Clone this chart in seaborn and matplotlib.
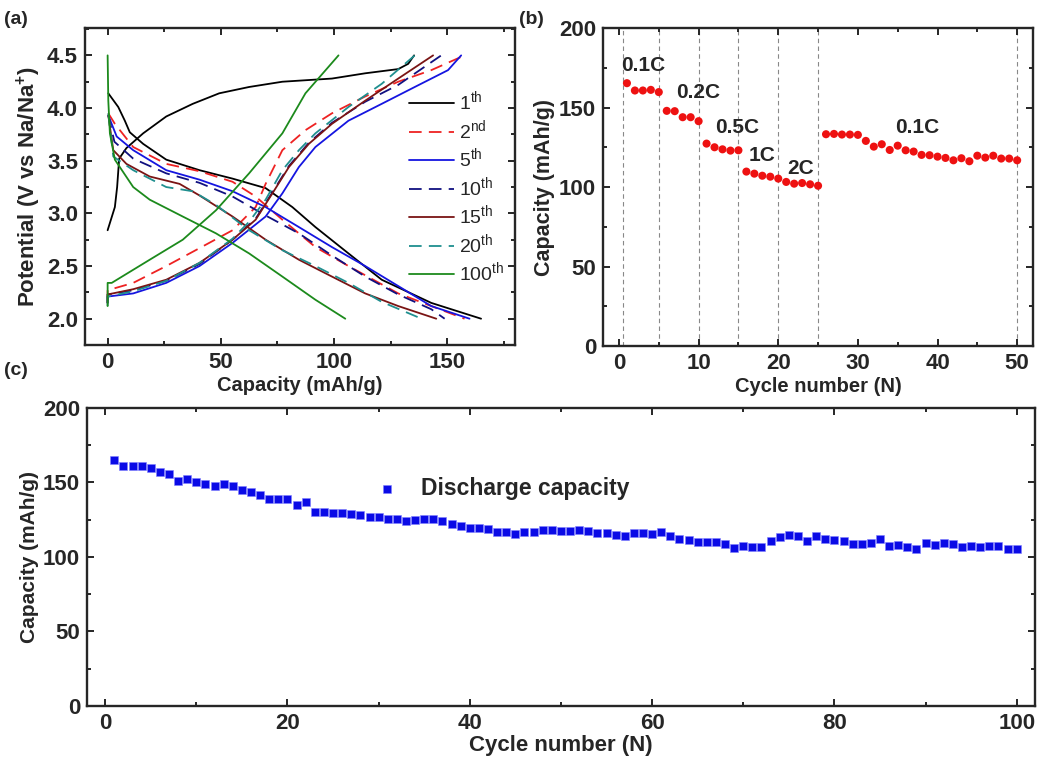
import numpy as np
import pandas as pd
import seaborn as sns
import matplotlib
matplotlib.use("Agg")
import matplotlib.pyplot as plt
from matplotlib.ticker import MultipleLocator, FormatStrFormatter

# ---------------------------------------
# 1. Data
# ---------------------------------------
# (a) charge / discharge profiles: capacity (mAh/g) and potential (V)
cap_1c = [0, 3.2, 4.2, 5.1, 8.3, 15.7, 25.9, 37.6, 49.3, 62.5, 77.2, 99.1, 113.8, 128.4, 132.8, 135.4]
pot_1c = [2.84, 3.06, 3.25, 3.52, 3.62, 3.76, 3.92, 4.04, 4.14, 4.20, 4.25, 4.28, 4.33, 4.37, 4.42, 4.50]
cap_1d = [0.3, 4.7, 7.6, 9.8, 15.7, 25.9, 40.6, 55.2, 69.8, 81.6, 91.8, 106.4, 121.1, 143.0, 165.0]
pot_1d = [4.14, 4.01, 3.88, 3.77, 3.66, 3.51, 3.41, 3.33, 3.24, 3.06, 2.87, 2.62, 2.37, 2.15, 2.00]

cap_2c = [0, 0, 11.3, 25.9, 40.6, 55.2, 65.4, 69.8, 77.2, 87.4, 99.1, 113.8, 128.4, 143.0, 157.7]
pot_2c = [2.15, 2.27, 2.34, 2.50, 2.67, 2.84, 3.06, 3.28, 3.60, 3.79, 3.95, 4.11, 4.25, 4.36, 4.50]
cap_2d = [0.3, 3.2, 11.3, 25.9, 40.6, 55.2, 65.4, 77.2, 91.8, 106.4, 128.4, 143.0, 157.7]
pot_2d = [3.95, 3.85, 3.63, 3.47, 3.40, 3.30, 3.16, 2.94, 2.68, 2.50, 2.24, 2.12, 2.00]

cap_5c = [0, 0, 11.3, 25.9, 40.6, 55.2, 69.8, 77.2, 84.5, 91.8, 106.4, 121.1, 135.7, 150.4, 156.2]
pot_5c = [2.15, 2.21, 2.24, 2.34, 2.50, 2.72, 2.97, 3.19, 3.44, 3.63, 3.88, 4.04, 4.20, 4.36, 4.50]
cap_5d = [0.3, 4.0, 11.3, 25.9, 40.6, 55.2, 69.8, 84.5, 99.1, 113.8, 128.4, 143.0, 159.9]
pot_5d = [3.93, 3.73, 3.60, 3.41, 3.32, 3.21, 3.06, 2.87, 2.68, 2.50, 2.31, 2.12, 2.00]

cap_10c = [0, 0, 11.3, 25.9, 40.6, 55.2, 65.4, 72.8, 80.1, 88.9, 99.1, 113.8, 128.4, 147.4]
pot_10c = [2.15, 2.23, 2.27, 2.36, 2.52, 2.75, 2.95, 3.20, 3.45, 3.67, 3.86, 4.06, 4.22, 4.50]
cap_10d = [0.3, 3.0, 11.3, 25.9, 40.6, 55.2, 69.8, 84.5, 99.1, 113.8, 128.4, 143.0, 148.9]
pot_10d = [3.93, 3.68, 3.52, 3.38, 3.29, 3.16, 2.98, 2.81, 2.60, 2.40, 2.23, 2.09, 2.00]

cap_15c = [0, 0, 11.3, 25.9, 40.6, 55.2, 65.4, 72.8, 80.1, 88.9, 99.1, 113.8, 128.4, 143.8]
pot_15c = [2.15, 2.23, 2.28, 2.37, 2.53, 2.75, 2.94, 3.19, 3.44, 3.66, 3.85, 4.07, 4.28, 4.50]
cap_15d = [0.3, 2.5, 8.3, 18.6, 31.8, 40.6, 55.2, 69.8, 84.5, 99.1, 113.8, 128.4, 145.2]
pot_15d = [3.93, 3.60, 3.47, 3.35, 3.28, 3.17, 2.97, 2.75, 2.56, 2.40, 2.24, 2.12, 2.00]

cap_20c = [0, 0, 11.3, 25.9, 40.6, 55.2, 62.5, 69.8, 77.2, 84.5, 91.8, 106.4, 121.1, 135.7]
pot_20c = [2.12, 2.21, 2.26, 2.36, 2.53, 2.76, 2.92, 3.13, 3.41, 3.60, 3.76, 4.01, 4.23, 4.50]
cap_20d = [0.3, 2.5, 11.3, 25.9, 37.6, 47.9, 62.5, 77.2, 91.8, 106.4, 121.1, 138.7]
pot_20d = [3.95, 3.54, 3.41, 3.25, 3.21, 3.08, 2.84, 2.65, 2.50, 2.34, 2.16, 2.00]

cap_100c = [0, 0, 1.8, 18.6, 33.2, 47.9, 62.5, 77.2, 87.4, 102.0]
pot_100c = [2.12, 2.34, 2.34, 2.56, 2.75, 3.03, 3.38, 3.76, 4.14, 4.50]
cap_100d = [0, 0.3, 1.0, 3.2, 11.3, 18.6, 33.2, 47.9, 62.5, 77.2, 91.8, 105.0]
pot_100d = [4.50, 4.07, 3.76, 3.51, 3.25, 3.13, 2.97, 2.81, 2.62, 2.40, 2.18, 2.00]

cycle_labels = [r"1$^{\mathrm{th}}$", r"2$^{\mathrm{nd}}$", r"5$^{\mathrm{th}}$", r"10$^{\mathrm{th}}$",
                r"15$^{\mathrm{th}}$", r"20$^{\mathrm{th}}$", r"100$^{\mathrm{th}}$"]

# (b) rate capability
rate_cycle = list(range(1, 51))
rate_capacity = [165.3, 160.7, 160.7, 161.1, 159.7, 147.9, 147.7, 143.9, 143.9, 141.4,
                 127.3, 125.0, 123.7, 122.9, 123.1, 109.7, 108.4, 107.1, 106.5, 105.3,
                 103.2, 102.1, 102.5, 101.7, 100.8, 133.2, 133.4, 133.0, 133.0, 132.8,
                 129.0, 125.4, 126.9, 123.3, 126.0, 123.1, 122.3, 120.2, 120.0, 119.1,
                 118.3, 116.8, 118.1, 116.2, 119.7, 118.5, 119.7, 117.9, 117.9, 116.8]
rate_bounds = [0.5, 5, 10, 15, 20, 25, 50]
rate_names = ["0.1C", "0.2C", "0.5C", "1C", "2C", "0.1C"]
rate_name_x = [3.1, 9.9, 14.8, 18.0, 22.8, 37.5]
rate_name_y = [176.7, 159.3, 137.3, 119.7, 111.7, 137.3]

# (c) long cycling
long_cycle = list(range(1, 101))
long_capacity = [165.1, 160.9, 160.9, 160.9, 159.7, 157.3, 155.9, 150.8, 152.3, 150.1,
                 148.8, 147.9, 149.0, 147.7, 145.2, 143.6, 141.6, 138.9, 138.9, 138.9,
                 135.1, 136.7, 130.2, 130.4, 129.5, 129.5, 128.6, 128.0, 126.6, 126.6,
                 125.3, 125.3, 124.4, 124.6, 125.7, 125.3, 124.4, 122.3, 120.8, 119.2,
                 119.2, 118.6, 116.6, 116.6, 115.2, 116.6, 117.0, 118.1, 118.1, 117.7,
                 117.7, 118.1, 117.7, 116.1, 116.0, 114.5, 113.8, 116.1, 116.1, 115.2,
                 117.0, 114.0, 112.1, 111.6, 110.1, 110.1, 110.1, 108.7, 106.0, 107.4,
                 107.0, 107.0, 110.4, 113.2, 114.8, 113.8, 110.7, 113.8, 112.1, 111.4,
                 110.7, 108.7, 108.7, 109.4, 112.1, 107.4, 108.1, 107.0, 105.1, 109.6,
                 108.1, 109.6, 108.5, 107.0, 107.4, 107.0, 107.6, 107.6, 105.4, 105.4]

# ---------------------------------------
# 2. Theme
# ---------------------------------------
sns.set_theme(style="ticks")
plt.rcParams["font.family"] = ["Liberation Sans", "DejaVu Sans"]
plt.rcParams["mathtext.fontset"] = "custom"
plt.rcParams["mathtext.rm"] = "Liberation Sans"
plt.rcParams["mathtext.bf"] = "Liberation Sans:bold"
plt.rcParams["axes.linewidth"] = 1.7

fig = plt.figure(figsize=(10.39, 7.61), dpi=100)
ax_a = fig.add_axes([0.0818, 0.5466, 0.4139, 0.4166])
ax_b = fig.add_axes([0.5804, 0.5453, 0.4139, 0.4179])
ax_c = fig.add_axes([0.0837, 0.0723, 0.9124, 0.3916])


def style_axis(ax):
    ax.tick_params(which="both", direction="in", top=True, right=True, width=1.4,
                   labelsize=16, pad=5)
    ax.tick_params(which="major", length=5)
    ax.tick_params(which="minor", length=3)
    for lab in ax.get_xticklabels() + ax.get_yticklabels():
        lab.set_fontweight("bold")


# ---------------------------------------
# 3. (a) charge/discharge profiles
# ---------------------------------------
curves = [
    (cap_1c, pot_1c, cap_1d, pot_1d, "black", "-"),
    (cap_2c, pot_2c, cap_2d, pot_2d, "#ee2222", (0, (7, 4))),
    (cap_5c, pot_5c, cap_5d, pot_5d, "#1515e0", "-"),
    (cap_10c, pot_10c, cap_10d, pot_10d, "#101080", (0, (7, 4))),
    (cap_15c, pot_15c, cap_15d, pot_15d, "#7a1414", "-"),
    (cap_20c, pot_20c, cap_20d, pot_20d, "#1f8f8f", (0, (7, 4))),
    (cap_100c, pot_100c, cap_100d, pot_100d, "#1c8a1c", "-"),
]
for (cc, pc, cd, pd_, col, ls), lab in zip(curves, cycle_labels):
    sns.lineplot(x=cc, y=pc, sort=False, estimator=None, ax=ax_a, color=col,
                 linestyle=ls, linewidth=1.3, label=lab)
    sns.lineplot(x=cd, y=pd_, sort=False, estimator=None, ax=ax_a, color=col,
                 linestyle=ls, linewidth=1.3)

ax_a.set_xlim(-10, 180)
ax_a.set_ylim(1.75, 4.76)
ax_a.xaxis.set_major_locator(MultipleLocator(50))
ax_a.xaxis.set_minor_locator(MultipleLocator(25))
ax_a.yaxis.set_major_locator(MultipleLocator(0.5))
ax_a.yaxis.set_minor_locator(MultipleLocator(0.25))
ax_a.yaxis.set_major_formatter(FormatStrFormatter("%.1f"))
ax_a.set_xlabel("Capacity (mAh/g)", fontsize=14.5, fontweight="bold", labelpad=2)
ax_a.set_ylabel(r"Potential (V vs Na/Na$^{\mathbf{+}}$)", fontsize=16, fontweight="bold", labelpad=3)
ax_a.legend(loc="upper left", bbox_to_anchor=(0.735, 0.83), frameon=False,
            handlelength=2.3, handletextpad=0.3, labelspacing=0.2,
            prop={"size": 14, "weight": "normal"}, borderaxespad=0)
style_axis(ax_a)

# ---------------------------------------
# 4. (b) rate capability
# ---------------------------------------
for xb in rate_bounds:
    ax_b.axvline(xb, color="#888888", linestyle=(0, (4, 3)), linewidth=0.8, zorder=0)
sns.scatterplot(x=rate_cycle, y=rate_capacity, ax=ax_b, color="#ee1111",
                marker="o", s=34, edgecolor="none", zorder=3)
for name, tx, ty in zip(rate_names, rate_name_x, rate_name_y):
    ax_b.text(tx, ty, name, ha="center", va="center", fontsize=15, fontweight="bold")
ax_b.set_xlim(-2, 52)
ax_b.set_ylim(0, 200)
ax_b.xaxis.set_major_locator(MultipleLocator(10))
ax_b.xaxis.set_minor_locator(MultipleLocator(5))
ax_b.yaxis.set_major_locator(MultipleLocator(50))
ax_b.yaxis.set_minor_locator(MultipleLocator(25))
ax_b.set_xlabel("Cycle number (N)", fontsize=14.5, fontweight="bold", labelpad=2)
ax_b.set_ylabel("Capacity (mAh/g)", fontsize=15.5, fontweight="bold", labelpad=3)
style_axis(ax_b)

# ---------------------------------------
# 5. (c) long cycling
# ---------------------------------------
sns.scatterplot(x=long_cycle, y=long_capacity, ax=ax_c, color="#0a0ae6",
                marker="s", s=36, edgecolor="#8080ff", linewidth=0.4,
                label="Discharge capacity", zorder=3)
ax_c.set_xlim(-2, 102)
ax_c.set_ylim(0, 200)
ax_c.xaxis.set_major_locator(MultipleLocator(20))
ax_c.xaxis.set_minor_locator(MultipleLocator(10))
ax_c.yaxis.set_major_locator(MultipleLocator(50))
ax_c.yaxis.set_minor_locator(MultipleLocator(25))
ax_c.set_xlabel("Cycle number (N)", fontsize=16, fontweight="bold", labelpad=1)
ax_c.set_ylabel("Capacity (mAh/g)", fontsize=15, fontweight="bold", labelpad=3)
ax_c.legend(loc="center left", bbox_to_anchor=(0.297, 0.73), frameon=False,
            handlelength=0.8, handletextpad=1.1, borderaxespad=0,
            prop={"size": 16.5, "weight": "bold"})
style_axis(ax_c)

# panel letters
fig.text(0.004, 0.975, "(a)", fontsize=14, fontweight="bold", va="center")
fig.text(0.500, 0.975, "(b)", fontsize=14, fontweight="bold", va="center")
fig.text(0.004, 0.513, "(c)", fontsize=14, fontweight="bold", va="center")

fig.savefig("out.png", dpi=100)
